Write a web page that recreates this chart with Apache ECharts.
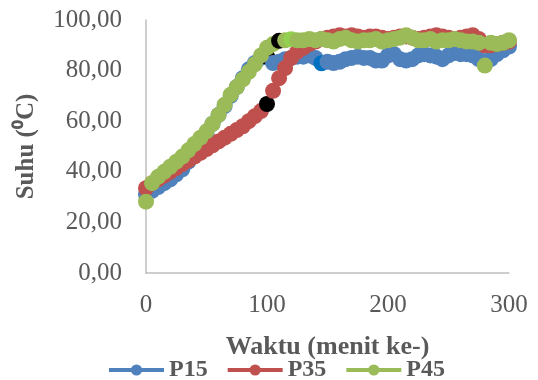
<!DOCTYPE html>
<html>
<head>
<meta charset="utf-8">
<script src="https://cdn.jsdelivr.net/npm/echarts@6/dist/echarts.min.js"></script>
<style>
  html, body { margin: 0; padding: 0; background: #fff; }
  #chart { width: 538px; height: 380px; }
</style>
</head>
<body>
<div id="chart"></div>
<script>
// waktu (menit ke-), tiap 5 menit
var times = [
  0, 5, 10, 15, 20, 25, 30, 35, 40, 45, 50, 55, 60, 65, 70, 75, 80, 85, 90, 95,
  100, 105, 110, 115, 120, 125, 130, 135, 140, 145, 150, 155, 160, 165, 170, 175, 180, 185, 190, 195,
  200, 205, 210, 215, 220, 225, 230, 235, 240, 245, 250, 255, 260, 265, 270, 275, 280, 285, 290, 295, 300
];
var p15 = [
  31, 32.5, 34, 35.5, 37, 39, 41, 44, 47.5, 51, 55, 59, 62.5, 66, 70, 73.5, 77, 80.5, 83, 85,
  85.5, 83, 83.5, 84.5, 85, 85.5, 85.5, 86, 85, 82.9, 83.5, 83, 83.5, 84.5, 85, 85.5, 85, 85, 84, 84,
  86, 86.5, 84.5, 84, 84.5, 86, 86.5, 86, 85.5, 84.5, 86, 87, 86.5, 86.5, 86, 84.5, 83.5, 84.5, 86.5, 88, 89.5
];
var p35 = [
  33.5, 35.5, 37, 38.5, 40, 41.5, 43, 44.5, 46, 47.5, 49, 50.5, 52, 53.5, 55, 56.5, 58, 60, 62, 64,
  66.8, 72, 77, 81, 85, 87.5, 89, 90.5, 91.5, 92.5, 93, 93.5, 94, 93.5, 94, 93.5, 93, 93.5, 93.5, 93,
  92.5, 93, 93.5, 93.5, 93, 92.5, 93, 93.5, 94, 93.5, 93, 92.5, 93, 93.5, 94, 92.5, 90, 90, 90.5, 91, 91.5
];
var p45 = [
  28.2, 35.5, 38, 40, 42, 44, 46, 48.5, 51, 53.5, 56, 59, 62.5, 66.5, 70.5, 73.5, 76.5, 79.5, 82.5, 86,
  89, 90.5, 91.8, 92, 92.4, 92, 92, 92.5, 92, 92.5, 92, 91.5, 92.5, 93, 92, 91.5, 92, 92, 92.5, 91.5,
  92, 92.5, 93, 94, 93, 92, 92, 92.5, 91.5, 92, 92, 92.5, 92, 91.5, 91.5, 91, 82, 91, 90.5, 91, 92
];
var seriesNames = ["P15", "P35", "P45"];
var yTicks = [0, 20, 40, 60, 80, 100];
var xTicks = [0, 100, 200, 300];

// titik yang warnanya lain
var marked = [
  { s: 0, t: 100, color: "#000000" },
  { s: 0, t: 145, color: "#0070C0" },
  { s: 1, t: 100, color: "#000000" },
  { s: 2, t: 110, color: "#000000" },
  { s: 2, t: 120, color: "#92D050" }
];

var colors = ["#4F81BD", "#C0504D", "#9BBB59"];
var font = "'Liberation Serif', 'Times New Roman', serif";

function buildData(idx, values) {
  return times.map(function (t, i) {
    var item = { value: [t, values[i]] };
    marked.forEach(function (m) {
      if (m.s === idx && m.t === t) {
        item.itemStyle = { color: m.color, borderColor: m.color };
      }
    });
    return item;
  });
}

var chart = echarts.init(document.getElementById("chart"));
chart.setOption({
  animation: false,
  backgroundColor: "#fff",
  color: colors,
  grid: { left: 146, right: 29, top: 20, bottom: 107 },
  xAxis: {
    type: "value",
    min: xTicks[0],
    max: xTicks[xTicks.length - 1],
    interval: 100,
    name: "Waktu (menit ke-)",
    nameLocation: "middle",
    nameGap: 61,
    nameTextStyle: { fontFamily: font, fontSize: 26, fontWeight: "bold", color: "#595959" },
    axisLine: { lineStyle: { color: "#BFBFBF", width: 1.5 } },
    axisTick: { show: false },
    splitLine: { show: false },
    axisLabel: { margin: 20, fontFamily: font, fontSize: 25, color: "#595959" }
  },
  yAxis: {
    type: "value",
    min: yTicks[0],
    max: yTicks[yTicks.length - 1],
    interval: 20,
    name: "Suhu (\u2070C)",
    nameLocation: "middle",
    nameGap: 107,
    nameTextStyle: { fontFamily: font, fontSize: 25, fontWeight: "bold", color: "#595959" },
    axisLine: { show: true, lineStyle: { color: "#BFBFBF", width: 1.5 } },
    axisTick: { show: false },
    splitLine: { show: false },
    axisLabel: {
      margin: 24,
      fontFamily: font,
      fontSize: 25,
      color: "#595959",
      formatter: function (v) { return v.toFixed(2).replace(".", ","); }
    }
  },
  legend: {
    data: seriesNames,
    left: 102,
    top: 353,
    itemWidth: 55,
    itemHeight: 14,
    itemGap: 18,
    itemTextGap: 5,
    lineStyle: { width: 4 },
    textStyle: { fontFamily: font, fontSize: 24, fontWeight: "bold", color: "#595959" }
  },
  series: [p15, p35, p45].map(function (vals, i) {
    return {
      name: seriesNames[i],
      type: "line",
      data: buildData(i, vals),
      symbol: "circle",
      symbolSize: 16,
      showSymbol: true,
      lineStyle: { width: 5, color: colors[i] },
      itemStyle: { color: colors[i], borderWidth: 0 }
    };
  })
});
</script>
</body>
</html>
